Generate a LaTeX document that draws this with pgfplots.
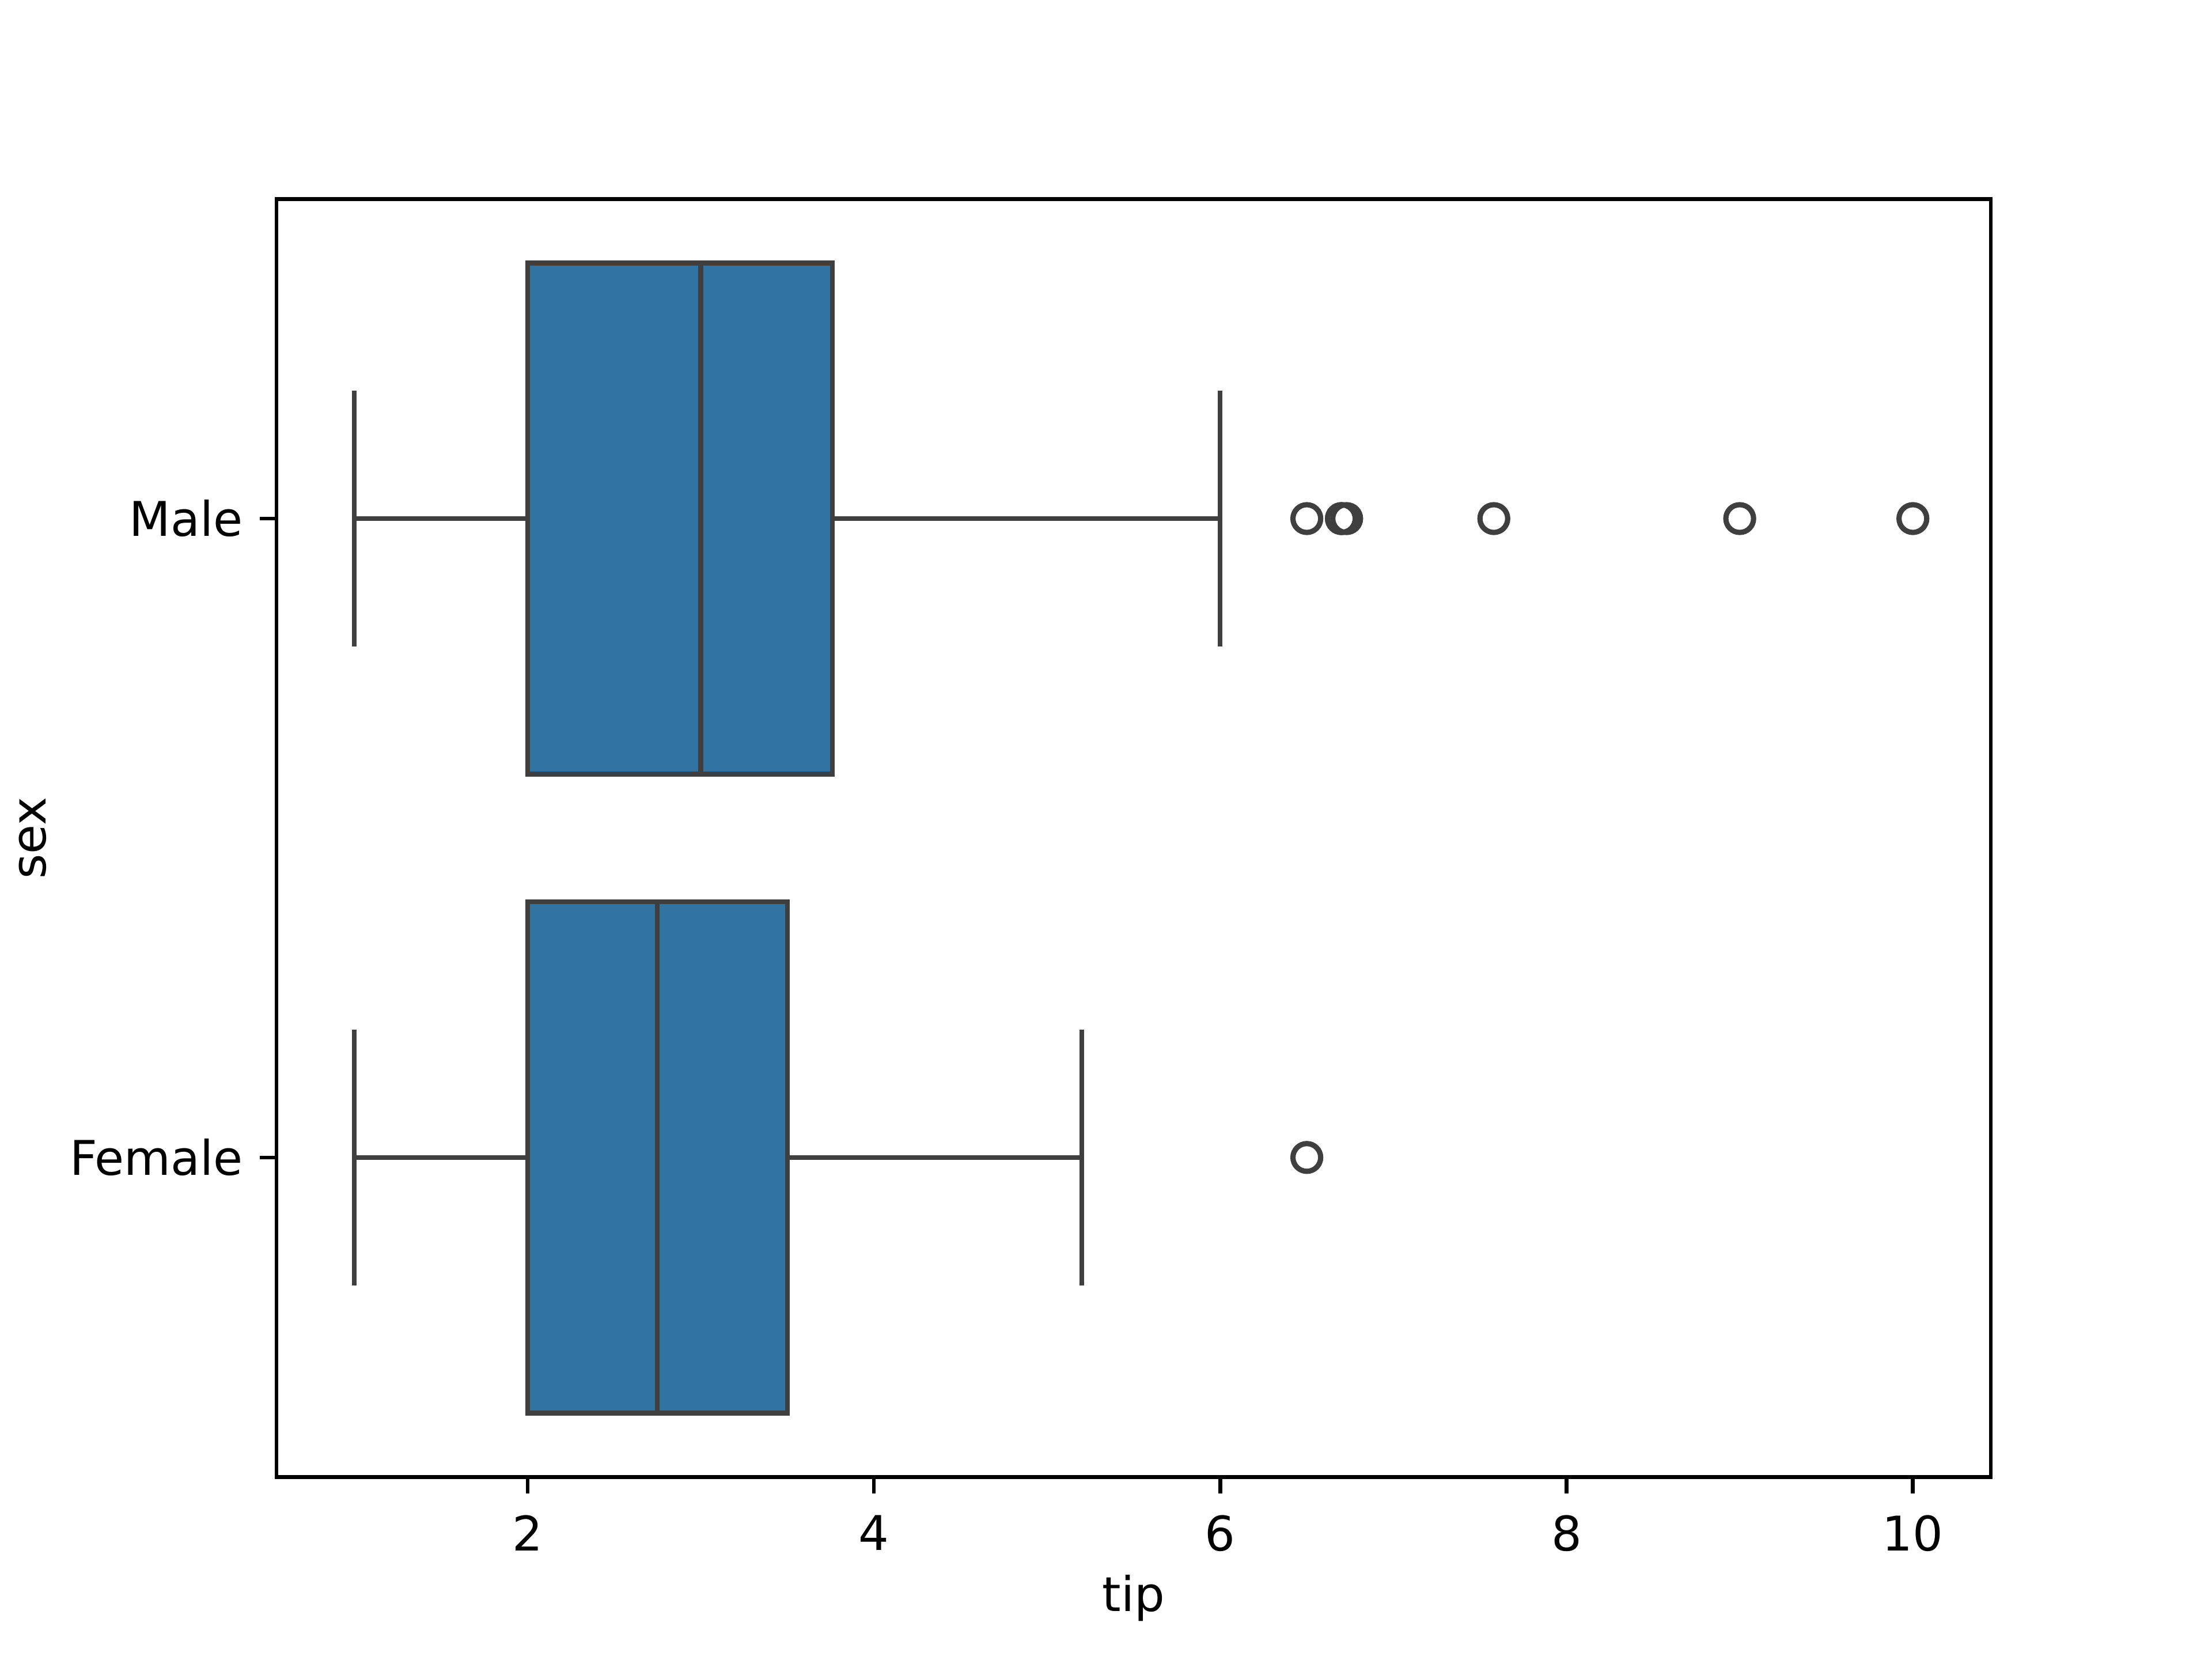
\documentclass[border=0pt]{standalone}
\usepackage{fontspec}
\setmainfont{DejaVu Sans}
\usepackage{pgfplots}
\pgfplotsset{compat=1.18}
\definecolor{boxblue}{HTML}{3274A1}
\definecolor{edge}{HTML}{3F3F3F}
\begin{document}
\begin{tikzpicture}
\path[use as bounding box] (0,0) rectangle (6.4in,4.8in);
\begin{axis}[
  at={(0.8in,0.528in)}, anchor=south west,
  scale only axis, width=4.96in, height=3.696in,
  xmin=0.55, xmax=10.45, ymin=-0.5, ymax=1.5, y dir=reverse,
  xtick={2,4,6,8,10},
  ytick={0,1}, yticklabels={Male,Female},
  tick align=outside, major tick length=3.5pt,
  tick style={black, line width=0.8pt},
  axis line style={black, line width=0.8pt},
  xtick pos=bottom, ytick pos=left,
  font=\fontsize{10}{12}\selectfont,
  /pgf/number format/assume math mode=true,
  xticklabel style={yshift=-1pt},
  xlabel={tip}, ylabel={sex},
  xlabel style={yshift=2pt},
  ylabel style={yshift=-2pt},
  clip=false,
]
% Male box
\addplot[fill=boxblue, draw=edge, line width=1pt] coordinates {(2,-0.4)(3.76,-0.4)(3.76,0.4)(2,0.4)} -- cycle;
\addplot[draw=edge, line width=1pt] coordinates {(3,-0.4)(3,0.4)};
\addplot[draw=edge, line width=1pt] coordinates {(1,0)(2,0)};
\addplot[draw=edge, line width=1pt] coordinates {(3.76,0)(6,0)};
\addplot[draw=edge, line width=1pt] coordinates {(1,-0.2)(1,0.2)};
\addplot[draw=edge, line width=1pt] coordinates {(6,-0.2)(6,0.2)};
\addplot[only marks, mark=o, mark size=2.9pt, draw=edge, line width=1.1pt] coordinates {(6.5,0)(6.7,0)(6.73,0)(6.7,0)(7.58,0)(9,0)(10,0)};
% Female box
\addplot[fill=boxblue, draw=edge, line width=1pt] coordinates {(2,0.6)(3.5,0.6)(3.5,1.4)(2,1.4)} -- cycle;
\addplot[draw=edge, line width=1pt] coordinates {(2.75,0.6)(2.75,1.4)};
\addplot[draw=edge, line width=1pt] coordinates {(1,1)(2,1)};
\addplot[draw=edge, line width=1pt] coordinates {(3.5,1)(5.2,1)};
\addplot[draw=edge, line width=1pt] coordinates {(1,0.8)(1,1.2)};
\addplot[draw=edge, line width=1pt] coordinates {(5.2,0.8)(5.2,1.2)};
\addplot[only marks, mark=o, mark size=2.9pt, draw=edge, line width=1.1pt] coordinates {(6.5,1)};
\end{axis}
\end{tikzpicture}
\end{document}
